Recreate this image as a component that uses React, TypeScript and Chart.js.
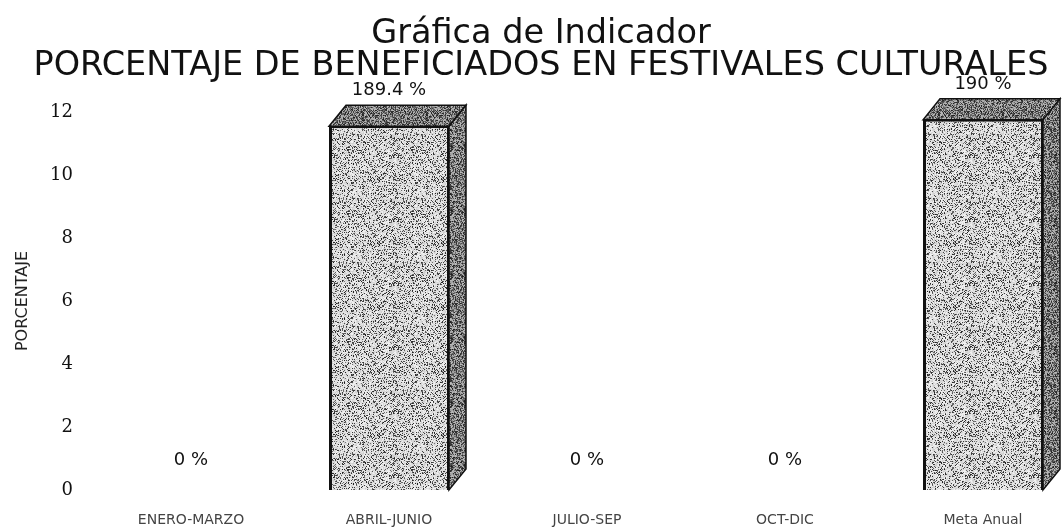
import React, { useEffect, useRef } from "react";
import { Chart, registerables } from "chart.js";

Chart.register(...registerables);

const TITLE_LINES = ["Gráfica de Indicador", "PORCENTAJE DE BENEFICIADOS EN FESTIVALES CULTURALES"];
const CATEGORIES = ["ENERO-MARZO", "ABRIL-JUNIO", "JULIO-SEP", "OCT-DIC", "Meta Anual"];
const VALUES = [0, 11.55, 0, 0, 11.75];
const VALUE_LABELS = ["0 %", "189.4 %", "0 %", "0 %", "190 %"];
const Y_TITLE = "PORCENTAJE";
const Y_MIN = 0;
const Y_MAX = 12;
const Y_STEP = 2;

function hash(x: number, y: number, s: number) {
  let h = (x * 374761393 + y * 668265263 + s * 2147483647) | 0;
  h = (h ^ (h >>> 13)) * 1274126177;
  h = h ^ (h >>> 16);
  return ((h >>> 0) % 1000) / 1000;
}

function makePattern(ctx: CanvasRenderingContext2D, base: number, darkRatio: number, seed: number) {
  const c = document.createElement("canvas");
  c.width = 64;
  c.height = 64;
  const g = c.getContext("2d")!;
  const img = g.createImageData(64, 64);
  for (let y = 0; y < 64; y++) {
    for (let x = 0; x < 64; x++) {
      const r = hash(x, y, seed);
      const v = r < darkRatio ? 30 + Math.floor(hash(y, x, seed + 7) * 90) : base + Math.floor(hash(x + 3, y + 5, seed + 3) * 40);
      const i = (y * 64 + x) * 4;
      img.data[i] = v;
      img.data[i + 1] = v;
      img.data[i + 2] = v;
      img.data[i + 3] = 255;
    }
  }
  g.putImageData(img, 0, 0);
  return ctx.createPattern(c, "repeat")!;
}

const CANVAS_W = 1082;
const CANVAS_H = 529;

export default function App() {
  const ref = useRef<HTMLCanvasElement>(null);

  useEffect(() => {
    const canvas = ref.current!;
    const ctx = canvas.getContext("2d")!;
    const frontPat = makePattern(ctx, 205, 0.25, 11);
    const darkPat = makePattern(ctx, 150, 0.55, 29);

    const bar3d = {
      id: "bar3d",
      afterDatasetsDraw(chart: any) {
        const c = chart.ctx;
        const meta = chart.getDatasetMeta(0);
        const dx = 17;
        const dy = 21;
        meta.data.forEach((bar: any, i: number) => {
          const { x, y, base, width } = bar.getProps(["x", "y", "base", "width"], true);
          const left = x - width / 2;
          const right = x + width / 2;
          const tall = base - y > 1;
          if (tall) {
            c.save();
            c.fillStyle = darkPat;
            c.strokeStyle = "#111";
            c.lineWidth = 1.5;
            c.beginPath();
            c.moveTo(left, y);
            c.lineTo(left + dx, y - dy);
            c.lineTo(right + dx, y - dy);
            c.lineTo(right, y);
            c.closePath();
            c.fill();
            c.stroke();
            c.beginPath();
            c.moveTo(right, y);
            c.lineTo(right + dx, y - dy);
            c.lineTo(right + dx, base - dy);
            c.lineTo(right, base);
            c.closePath();
            c.fill();
            c.stroke();
            c.restore();
          }
          c.save();
          c.fillStyle = "#111";
          c.font = "18px 'DejaVu Sans'";
          c.textAlign = "center";
          c.textBaseline = "middle";
          c.fillText(VALUE_LABELS[i], x, y - (tall ? 36 : 30));
          c.restore();
        });
      },
    };

    const chart = new Chart(canvas, {
      type: "bar",
      data: {
        labels: CATEGORIES,
        datasets: [
          {
            data: VALUES,
            backgroundColor: frontPat as any,
            borderColor: "#111",
            borderWidth: { top: 2, left: 3, right: 2, bottom: 0 } as any,
            barPercentage: 0.606,
            categoryPercentage: 1,
            clip: false as any,
          },
        ],
      },
      options: {
        animation: false,
        responsive: false,
        layout: { padding: { top: 0, left: 0, right: 0, bottom: 0 } },
        plugins: {
          legend: { display: false },
          tooltip: { enabled: false },
          title: {
            display: true,
            text: TITLE_LINES,
            color: "#111",
            font: { family: "'DejaVu Sans'", size: 33.5, weight: "normal", lineHeight: 0.97 },
            padding: { top: 18, bottom: 29 },
          },
        },
        scales: {
          x: {
            grid: { display: false, drawTicks: false },
            border: { display: false },
            ticks: {
              color: "#444",
              font: { family: "'DejaVu Sans'", size: 14 },
              padding: 22,
              autoSkip: false,
              maxRotation: 0,
            },
            afterFit: (s: any) => {
              s.height = 39;
            },
          },
          y: {
            min: Y_MIN,
            max: Y_MAX,
            grid: { display: false, drawTicks: false },
            border: { display: false },
            ticks: {
              stepSize: Y_STEP,
              color: "#111",
              font: { family: "'DejaVu Serif'", size: 18 },
              padding: 19,
            },
            title: {
              display: true,
              text: Y_TITLE,
              color: "#222",
              font: { family: "'DejaVu Sans'", size: 16 },
              padding: { top: 13, bottom: 0 },
            },
            afterFit: (s: any) => {
              s.width = 92;
            },
          },
        },
      },
      plugins: [bar3d],
    });
    return () => chart.destroy();
  }, []);

  return (
    <div style={{ position: "fixed", left: 0, top: 0, width: 1062, height: 529, overflow: "hidden", background: "#fff" }}>
      <canvas ref={ref} width={CANVAS_W} height={CANVAS_H} style={{ width: CANVAS_W, height: CANVAS_H, display: "block" }} />
    </div>
  );
}
